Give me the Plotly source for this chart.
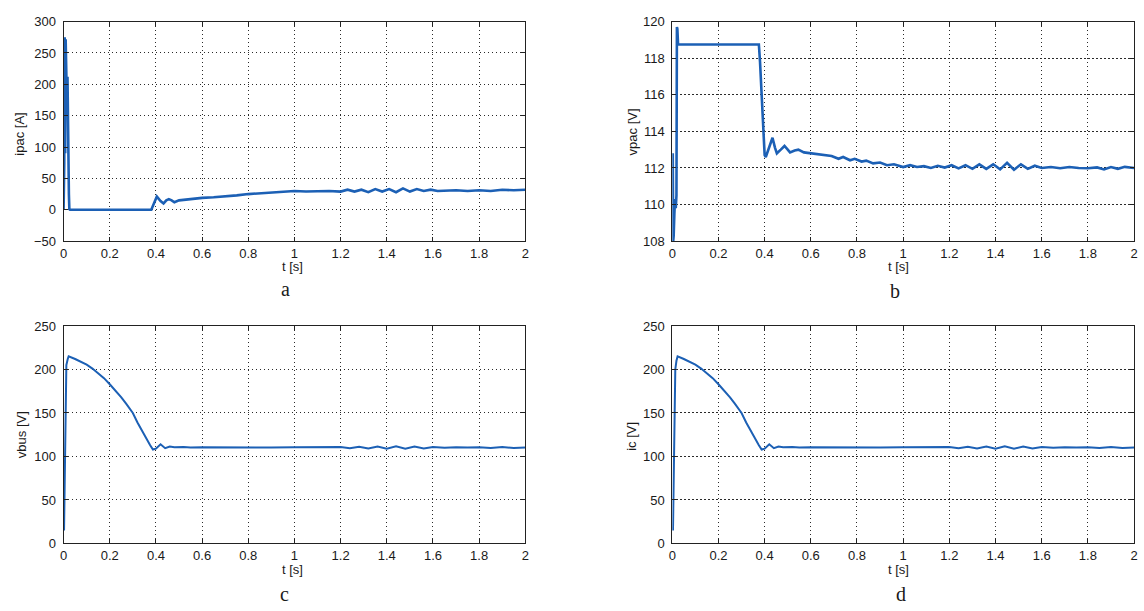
import plotly.graph_objects as go

# ---------------- data ----------------
t_a = [0, 0.003, 0.005, 0.007, 0.009, 0.011, 0.013, 0.015, 0.017, 0.019, 0.021, 0.023, 0.025, 0.028,
       0.38, 0.39, 0.404, 0.42, 0.433, 0.445, 0.456, 0.468, 0.48, 0.50, 0.52, 0.56, 0.60, 0.65, 0.70,
       0.75, 0.80, 0.85, 0.90, 0.95, 1.00, 1.05, 1.10, 1.15, 1.20, 1.23, 1.26, 1.29, 1.32, 1.35, 1.38,
       1.41, 1.44, 1.47, 1.50, 1.53, 1.56, 1.59, 1.62, 1.66, 1.70, 1.75, 1.80, 1.85, 1.90, 1.95, 2.00]
ipac = [0, 75, 275, 90, 272, 210, 215, 160, 212, 95, 60, 25, 1, 0,
        0, 8, 21, 14, 10, 15, 17, 15, 12, 15, 16, 17, 19, 20, 21,
        23, 25, 26, 28, 28, 30, 29, 30, 30, 29, 32, 29, 32, 28, 33, 29,
        33, 28, 34, 29, 33, 30, 32, 30, 31, 31, 30, 31, 30, 32, 31, 32]

t_b = [0, 0.002, 0.004, 0.006, 0.009, 0.012, 0.015, 0.018, 0.020, 0.022, 0.025, 0.10, 0.20, 0.30,
       0.375, 0.38, 0.385, 0.39, 0.395, 0.40, 0.405, 0.42, 0.434, 0.445, 0.453, 0.47, 0.486, 0.50,
       0.51, 0.53, 0.546, 0.57, 0.60, 0.63, 0.66, 0.69, 0.72, 0.74, 0.77, 0.79, 0.82, 0.84, 0.87,
       0.90, 0.93, 0.96, 1.00, 1.03, 1.06, 1.09, 1.12, 1.15, 1.18, 1.21, 1.24, 1.27, 1.30, 1.33,
       1.36, 1.39, 1.42, 1.45, 1.48, 1.51, 1.54, 1.57, 1.60, 1.64, 1.68, 1.72, 1.76, 1.80, 1.84,
       1.87, 1.90, 1.93, 1.96, 2.00]
vpac = [108.2, 112.8, 108.0, 108.3, 109.5, 110.3, 109.8, 110.5, 119.7, 119.6, 118.75, 118.75, 118.75, 118.75,
        118.75, 117.8, 116.5, 115.0, 113.8, 112.7, 112.6, 113.2, 113.65, 113.1, 112.8, 113.0, 113.2, 113.0,
        112.85, 112.95, 113.0, 112.85, 112.8, 112.75, 112.7, 112.65, 112.5, 112.6, 112.42, 112.5, 112.35, 112.4, 112.25,
        112.3, 112.15, 112.2, 112.05, 112.15, 112.05, 112.1, 112.0, 112.12, 112.02, 112.15, 111.98, 112.15, 111.95, 112.2,
        111.95, 112.2, 111.92, 112.28, 111.9, 112.2, 111.95, 112.12, 112.0, 112.05, 111.98, 112.05, 112.0, 111.98, 112.03,
        111.92, 112.05, 111.95, 112.06, 112.0]

t_c = [0.002, 0.004, 0.006, 0.008, 0.012, 0.018, 0.022, 0.05, 0.075, 0.10, 0.125, 0.15, 0.175, 0.20, 0.225,
       0.25, 0.27, 0.287, 0.30, 0.32, 0.344, 0.36, 0.375, 0.387, 0.40, 0.42, 0.43, 0.44, 0.46, 0.48, 0.52,
       0.55, 0.60, 0.70, 0.80, 0.90, 1.00, 1.10, 1.20, 1.24, 1.28, 1.32, 1.36, 1.40, 1.44, 1.48, 1.52,
       1.56, 1.60, 1.65, 1.70, 1.75, 1.80, 1.85, 1.90, 1.95, 2.00]
vbus = [15, 50, 120, 170, 205, 212, 215, 212, 209, 205.5, 201, 196, 190, 183, 176,
        168, 161, 155, 150, 139, 127, 120, 113, 108, 109, 114, 112, 109.5, 111.5, 110.5, 110.8,
        110.2, 110.5, 110.3, 110.5, 110.2, 110.6, 110.3, 110.8, 109.5, 111.2, 109.3, 111.5, 109.0, 111.8, 108.8, 111.5,
        109.3, 111.0, 110.0, 110.6, 110.2, 110.5, 109.8, 110.8, 109.7, 110.3]

t_d = [0.003, 0.005, 0.007, 0.009, 0.013, 0.018, 0.023, 0.05, 0.075, 0.10, 0.125, 0.15, 0.175, 0.20, 0.225,
       0.25, 0.27, 0.287, 0.30, 0.32, 0.344, 0.36, 0.375, 0.387, 0.40, 0.42, 0.43, 0.44, 0.46, 0.48, 0.52,
       0.55, 0.60, 0.70, 0.80, 0.90, 1.00, 1.10, 1.20, 1.24, 1.28, 1.32, 1.36, 1.40, 1.44, 1.48, 1.52,
       1.56, 1.60, 1.65, 1.70, 1.75, 1.80, 1.85, 1.90, 1.95, 2.00]
ic = [15, 60, 120, 175, 200, 210, 215, 212, 209, 205.5, 201, 196, 190, 183, 176,
      168, 161, 155, 150, 139, 127, 120, 113, 108, 109, 114, 112, 109.5, 111.5, 110.5, 110.8,
      110.2, 110.5, 110.3, 110.5, 110.2, 110.6, 110.3, 110.8, 109.5, 111.2, 109.3, 111.5, 109.0, 111.8, 108.8, 111.5,
      109.3, 111.0, 110.0, 110.6, 110.2, 110.5, 109.8, 110.8, 109.7, 110.3]

x_ticks = [0, 0.2, 0.4, 0.6, 0.8, 1, 1.2, 1.4, 1.6, 1.8, 2]
x_ticklabels = ["0", "0.2", "0.4", "0.6", "0.8", "1", "1.2", "1.4", "1.6", "1.8", "2"]
y_ticks_a = [-50, 0, 50, 100, 150, 200, 250, 300]
y_ticks_b = [108, 110, 112, 114, 116, 118, 120]
y_ticks_cd = [0, 50, 100, 150, 200, 250]

y_titles = ["ipac [A]", "vpac [V]", "vbus [V]", "ic [V]"]
panel_letters = ["a", "b", "c", "d"]

# ---------------- figure ----------------
W, H = 1144, 611
LINE = "#1c60b5"

def px_x(p):
    return p / W

def px_y(p):
    return 1 - p / H

panels = [
    # (x0, x1, y_top, y_bottom)
    (60, 525, 15, 240),
    (673, 1138, 15, 240),
    (60, 525, 327, 550),
    (673, 1138, 327, 550),
]
series = [(t_a, ipac, 2.6), (t_b, vpac, 2.6), (t_c, vbus, 2.0), (t_d, ic, 2.0)]
yranges = [(-50, 300), (108, 120), (0, 250), (0, 250)]
yticks = [y_ticks_a, y_ticks_b, y_ticks_cd, y_ticks_cd]
xtitle_pos = [(291, 266), (901, 266), (291, 577), (901, 577)]
ytitle_pos = [(16, 130), (633, 128), (17, 438), (632, 440)]
letter_pos = [(283, 289), (897, 291), (282, 602), (903, 602)]

fig = go.Figure()
layout = dict(
    width=W, height=H,
    margin=dict(l=0, r=0, t=0, b=0),
    paper_bgcolor="white", plot_bgcolor="white",
    showlegend=False,
    font=dict(family="Liberation Sans, Arial, sans-serif", size=13, color="#1a1a1a"),
)
annotations = []
axcommon = dict(
    showline=True, linecolor="#222", linewidth=1, mirror="ticks",
    ticks="inside", ticklen=4, tickcolor="#222",
    showgrid=True, gridcolor="#2a2a2a", griddash="1.5px,2.5px", gridwidth=1,
    zeroline=False, tickfont=dict(size=13, color="#1a1a1a"),
)

for i, ((x0, x1, yt, yb), (tx, ty, lw), yr, ytk) in enumerate(zip(panels, series, yranges, yticks)):
    n = "" if i == 0 else str(i + 1)
    fig.add_trace(go.Scatter(x=tx, y=ty, mode="lines", line=dict(color=LINE, width=lw),
                             xaxis="x" + n, yaxis="y" + n, hoverinfo="skip"))
    layout["xaxis" + n] = dict(axcommon, domain=[px_x(x0), px_x(x1)], range=[0, 2],
                               tickvals=x_ticks, ticktext=x_ticklabels, anchor="y" + n)
    layout["yaxis" + n] = dict(axcommon, domain=[px_y(yb), px_y(yt)], range=list(yr),
                               tickvals=ytk, anchor="x" + n, ticklabelstandoff=4)
    annotations.append(dict(text="t [s]", x=px_x(xtitle_pos[i][0]), y=px_y(xtitle_pos[i][1]),
                            xref="paper", yref="paper", showarrow=False,
                            font=dict(size=13, color="#1a1a1a"), xanchor="center", yanchor="middle"))
    annotations.append(dict(text=y_titles[i], x=px_x(ytitle_pos[i][0]), y=px_y(ytitle_pos[i][1]),
                            xref="paper", yref="paper", showarrow=False, textangle=-90,
                            font=dict(size=13, color="#1a1a1a"), xanchor="center", yanchor="middle"))
    annotations.append(dict(text=panel_letters[i], x=px_x(letter_pos[i][0]), y=px_y(letter_pos[i][1]),
                            xref="paper", yref="paper", showarrow=False,
                            font=dict(family="Liberation Serif, Times New Roman, serif", size=20, color="#1a1a1a"),
                            xanchor="center", yanchor="middle"))

layout["annotations"] = annotations
fig.update_layout(**layout)
fig.write_html("out.html", config={"displayModeBar": False},
               post_script="document.body.style.margin='0px';document.body.style.overflow='hidden';")
